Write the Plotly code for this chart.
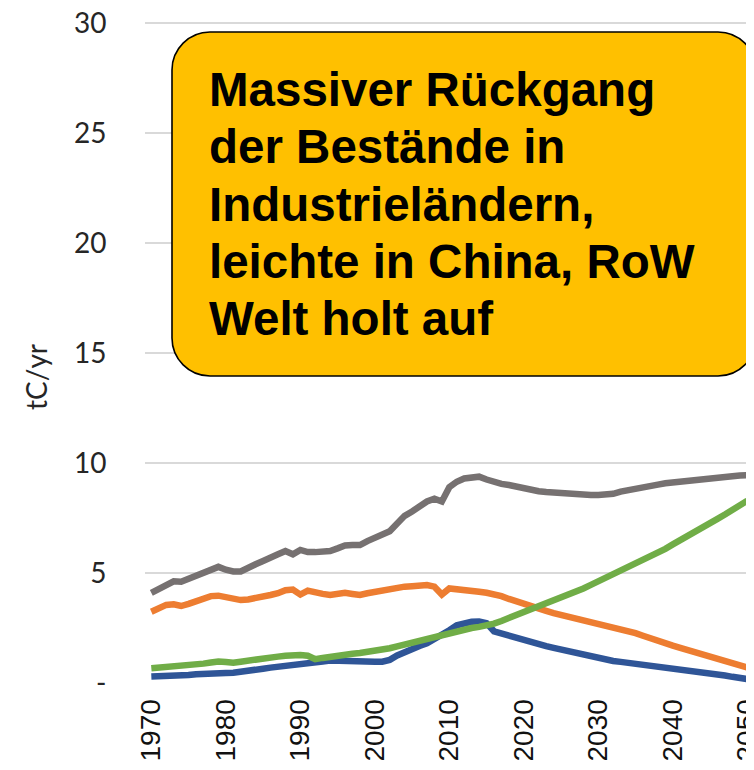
import plotly.graph_objects as go

years = list(range(1970, 2051))

grey_series = [
    4.10, 4.30, 4.50, 4.62, 4.60, 4.75, 4.90, 5.00, 5.20, 5.28,
    5.15, 5.07, 5.07, 5.20, 5.40, 5.55, 5.67, 5.85, 6.00, 5.85,
    6.05, 5.95, 5.95, 5.97, 6.00, 6.12, 6.25, 6.27, 6.27, 6.45,
    6.60, 6.70, 6.90, 7.25, 7.60, 7.80, 8.05, 8.25, 8.38, 8.25,
    8.90, 9.15, 9.30, 9.35, 9.38, 9.25, 9.12, 9.05, 9.00, 8.92,
    8.85, 8.77, 8.72, 8.68, 8.65, 8.62, 8.60, 8.57, 8.55, 8.55,
    8.55, 8.55, 8.60, 8.70, 8.75, 8.82, 8.90, 8.97, 9.02, 9.08,
    9.12, 9.17, 9.22, 9.27, 9.30, 9.32, 9.35, 9.38, 9.40, 9.43,
    9.45]

orange_series = [
    3.24, 3.40, 3.55, 3.58, 3.50, 3.60, 3.72, 3.85, 3.95, 3.97,
    3.92, 3.82, 3.77, 3.80, 3.85, 3.92, 4.00, 4.08, 4.22, 4.25,
    4.02, 4.20, 4.10, 4.05, 4.00, 4.05, 4.10, 4.05, 4.00, 4.08,
    4.15, 4.22, 4.28, 4.33, 4.38, 4.40, 4.43, 4.45, 4.38, 4.02,
    4.30, 4.28, 4.25, 4.22, 4.15, 4.10, 4.05, 3.95, 3.82, 3.70,
    3.57, 3.46, 3.38, 3.28, 3.18, 3.10, 3.02, 2.94, 2.88, 2.80,
    2.72, 2.66, 2.58, 2.48, 2.38, 2.27, 2.15, 2.02, 1.92, 1.82,
    1.70, 1.60, 1.50, 1.42, 1.32, 1.22, 1.12, 1.00, 0.90, 0.80,
    0.70]

blue_series = [
    0.29, 0.29, 0.29, 0.30, 0.32, 0.36, 0.40, 0.43, 0.45, 0.46,
    0.46, 0.47, 0.50, 0.55, 0.60, 0.65, 0.70, 0.73, 0.76, 0.80,
    0.83, 0.87, 0.93, 0.98, 1.02, 1.00, 0.98, 0.98, 0.97, 0.97,
    0.97, 0.97, 1.05, 1.25, 1.42, 1.55, 1.68, 1.80, 1.98, 2.15,
    2.40, 2.62, 2.72, 2.78, 2.80, 2.72, 2.35, 2.25, 2.15, 2.05,
    1.95, 1.82, 1.75, 1.68, 1.60, 1.52, 1.42, 1.33, 1.25, 1.17,
    1.10, 1.05, 1.00, 0.96, 0.92, 0.89, 0.85, 0.80, 0.75, 0.71,
    0.66, 0.62, 0.58, 0.53, 0.48, 0.44, 0.39, 0.34, 0.28, 0.23,
    0.18]

green_series = [
    0.67, 0.69, 0.71, 0.74, 0.77, 0.80, 0.84, 0.88, 0.93, 0.98,
    0.95, 0.92, 0.97, 1.03, 1.08, 1.12, 1.16, 1.20, 1.24, 1.27,
    1.27, 1.24, 1.08, 1.14, 1.20, 1.25, 1.30, 1.33, 1.36, 1.40,
    1.45, 1.50, 1.58, 1.67, 1.76, 1.85, 1.93, 2.02, 2.10, 2.18,
    2.25, 2.33, 2.42, 2.50, 2.55, 2.60, 2.70, 2.82, 2.95, 3.08,
    3.22, 3.35, 3.47, 3.60, 3.72, 3.85, 4.00, 4.15, 4.30, 4.46,
    4.62, 4.78, 4.93, 5.08, 5.23, 5.40, 5.56, 5.72, 5.90, 6.10,
    6.30, 6.48, 6.67, 6.86, 7.06, 7.26, 7.46, 7.66, 7.87, 8.08,
    8.29]

y_tick_vals = [0, 5, 10, 15, 20, 25, 30]
y_tick_text = ["-", "5", "10", "15", "20", "25", "30"]
x_tick_vals = [1970, 1980, 1990, 2000, 2010, 2020, 2030, 2040, 2050]
x_tick_text = ["1970", "1980", "1990", "2000", "2010", "2020", "2030", "2040", "2050"]

y_title = "tC/yr"
box_lines = [
    "Massiver Rückgang",
    "der Bestände in",
    "Industrieländern,",
    "leichte in China, RoW",
    "Welt holt auf",
]

# the page body has an 8px margin, so the figure sits at (8, 8) in the window
OFF = 8
W, H = 754 - OFF, 770 - OFF
ML, MR, MT, MB = 137, 0, 14, 87
PW, PH = W - ML - MR, H - MT - MB
Y_MAX = 30.05


def px_x(px):
    # px given in window (reference) pixels
    return (px - OFF - ML) / PW


def px_y(py):
    return (H - MB - (py - OFF)) / PH


fig = go.Figure()
series = [
    (grey_series, "#767171"),
    (orange_series, "#ED7D31"),
    (blue_series, "#2F5597"),
    (green_series, "#70AD47"),
]
for vals, col in series:
    fig.add_trace(go.Scatter(x=years, y=vals, mode="lines",
                             line=dict(color=col, width=6.5),
                             showlegend=False, hoverinfo="skip"))

# rounded callout box (window pixel geometry)
x0, x1, y0, y1, r = 172, 756, 32, 376, 38
k = 0.552 * r


def P(px, py):
    return f"{px_x(px):.5f},{px_y(py):.5f}"


path = (f"M {P(x0 + r, y0)} L {P(x1 - r, y0)} "
        f"C {P(x1 - r + k, y0)} {P(x1, y0 + r - k)} {P(x1, y0 + r)} "
        f"L {P(x1, y1 - r)} "
        f"C {P(x1, y1 - r + k)} {P(x1 - r + k, y1)} {P(x1 - r, y1)} "
        f"L {P(x0 + r, y1)} "
        f"C {P(x0 + r - k, y1)} {P(x0, y1 - r + k)} {P(x0, y1 - r)} "
        f"L {P(x0, y0 + r)} "
        f"C {P(x0, y0 + r - k)} {P(x0 + r - k, y0)} {P(x0 + r, y0)} Z")
fig.add_shape(type="path", path=path, xref="paper", yref="paper",
              fillcolor="#FFC000", line=dict(color="#000000", width=1.6),
              layer="above")

baselines = [105, 162.5, 220, 277.5, 335]
for txt, b in zip(box_lines, baselines):
    fig.add_annotation(text=f"<b>{txt}</b>", xref="paper", yref="paper",
                       x=px_x(207), y=px_y(b - 16), xanchor="left", yanchor="middle",
                       showarrow=False, align="left",
                       font=dict(family="Liberation Sans, Arial, sans-serif", size=47.5, color="#000000"))

fig.add_annotation(text=y_title, xref="paper", yref="paper",
                   x=px_x(36), y=px_y(377), xanchor="center", yanchor="middle",
                   textangle=-90, showarrow=False,
                   font=dict(family="Lato, Open Sans, sans-serif", size=28, color="#262626"))

fig.update_layout(
    width=W, height=H,
    margin=dict(l=ML, r=MR, t=MT, b=MB, pad=0, autoexpand=False),
    paper_bgcolor="white", plot_bgcolor="white",
    xaxis=dict(range=[1969.15, 2050.9], tickmode="array", tickvals=x_tick_vals,
               ticktext=x_tick_text, tickangle=-90, showgrid=False, zeroline=False,
               showline=False, ticks="outside", ticklen=4, tickcolor="rgba(0,0,0,0)",
               ticklabeloverflow="allow", automargin=False,
               tickfont=dict(family="Liberation Sans, Arial, sans-serif", size=28, color="#111111")),
    yaxis=dict(range=[0, Y_MAX], tickmode="array", tickvals=y_tick_vals, ticktext=y_tick_text,
               showgrid=True, gridcolor="#D9D9D9", gridwidth=2, zeroline=False, showline=False,
               ticks="outside", ticklen=32, tickcolor="rgba(0,0,0,0)",
               ticklabeloverflow="allow", automargin=False,
               tickfont=dict(family="Lato, Open Sans, sans-serif", size=28, color="#262626")),
)

fig.write_html("out.html")
